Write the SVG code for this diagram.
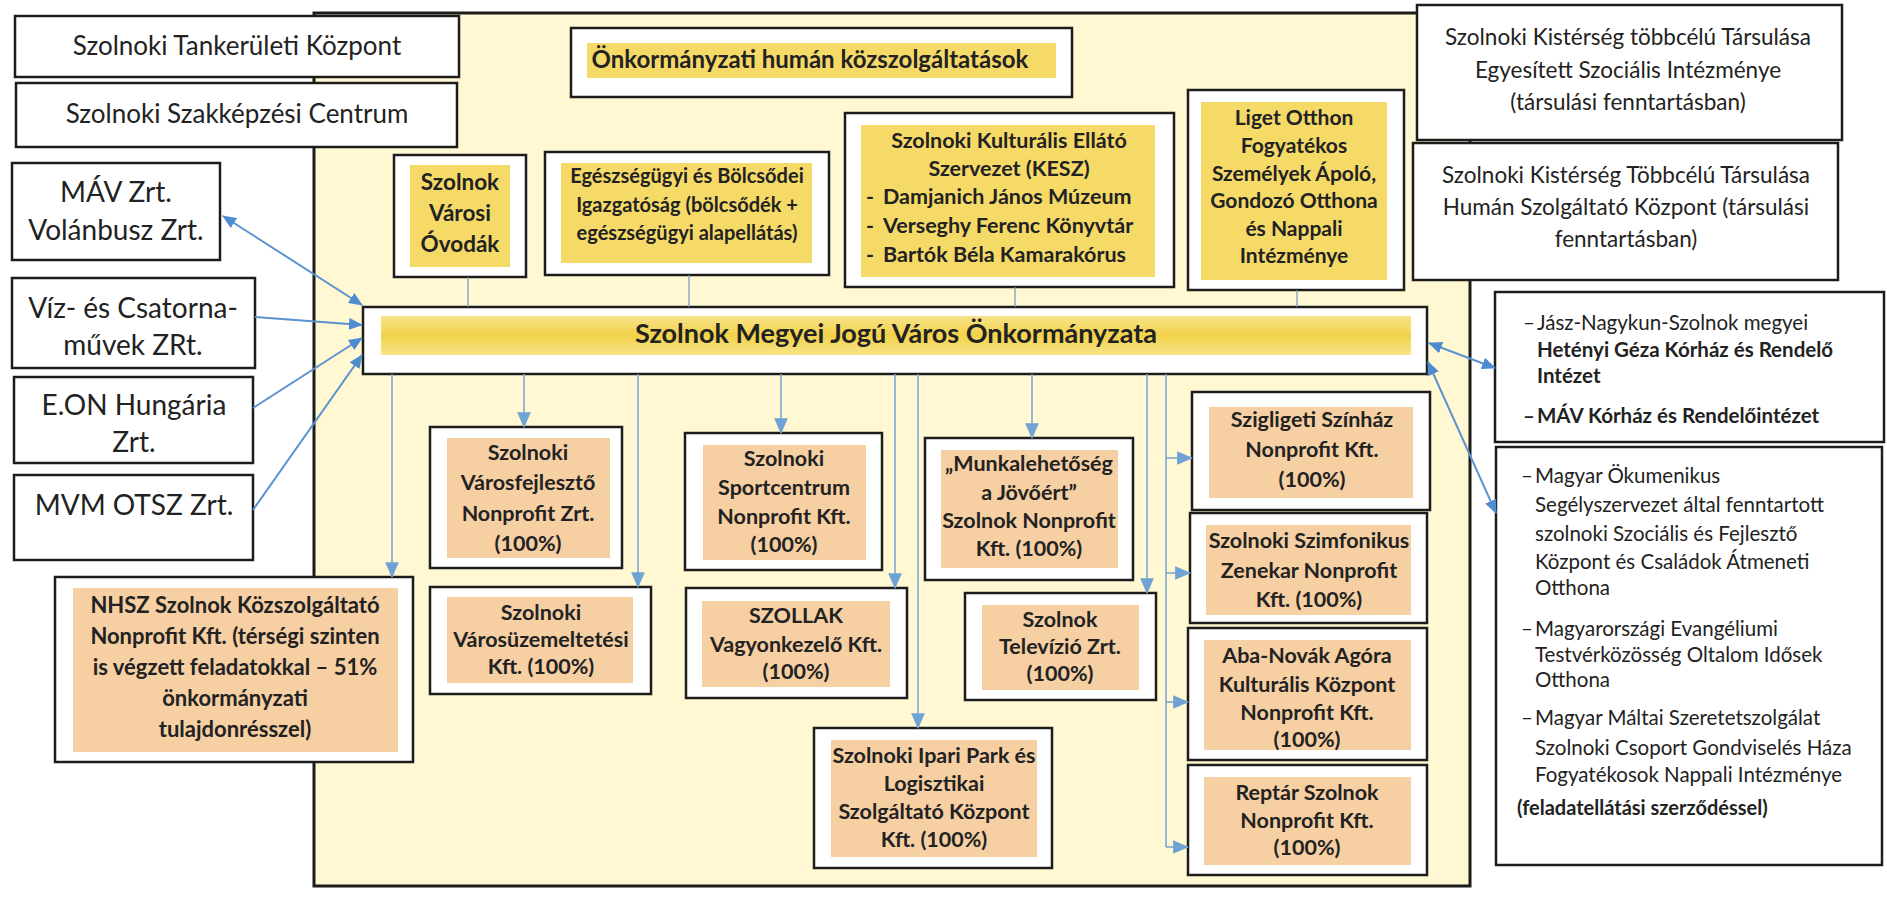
<svg xmlns="http://www.w3.org/2000/svg" width="1887" height="899" viewBox="0 0 1887 899">
<style>
.box{fill:#fff;stroke:#1c1c1c;stroke-width:2.5}
.cont{fill:#FFF8D3;stroke:#1c1c1c;stroke-width:3}
.yel{fill:#F6DA68}
.peach{fill:#F6CFA2}
.t{font-family:Lato,"Liberation Sans",sans-serif;fill:#222}
.b{font-weight:700}
.c{text-anchor:middle}
.pk{font-size:21.5px}
.conn{stroke:#5B93D0;stroke-width:2;fill:none}
.down{stroke:#72A4D6;stroke-width:1.5;fill:none}
.up{stroke:#6F96C6;stroke-width:1.2;fill:none}
</style>
<defs>
<marker id="ah" viewBox="0 0 14 12" refX="13" refY="6" markerWidth="14" markerHeight="12" markerUnits="userSpaceOnUse" orient="auto-start-reverse">
<path d="M0,0 L14,6 L0,12 Z" fill="#4F8CCF"/>
</marker>
<marker id="ad" viewBox="0 0 14 12" refX="13" refY="6" markerWidth="16" markerHeight="14" markerUnits="userSpaceOnUse" orient="auto">
<path d="M0,0 L14,6 L0,12 Z" fill="#6FA3D6"/>
</marker>
<linearGradient id="band" x1="0" y1="0" x2="0" y2="1">
<stop offset="0" stop-color="#F8E48A"/>
<stop offset="0.5" stop-color="#F2D24A"/>
<stop offset="1" stop-color="#F8E48A"/>
</linearGradient>
</defs>

<rect width="1887" height="899" fill="#fff"/>

<g id="container">
<rect class="cont" x="314" y="13" width="1156" height="873"/>
</g>

<g id="tankeruleti">
<rect class="box" x="15" y="16" width="444" height="61"/>
<text class="t c" x="237" y="55" font-size="26">Szolnoki Tankerületi Központ</text>
</g>
<g id="szakkepzesi">
<rect class="box" x="16" y="83" width="441" height="64"/>
<text class="t c" x="237" y="123" font-size="26">Szolnoki Szakképzési Centrum</text>
</g>
<g id="mav">
<rect class="box" x="12" y="163" width="208" height="97"/>
<text class="t c" font-size="28"><tspan x="116" y="202">MÁV Zrt.</tspan><tspan x="116" y="240">Volánbusz Zrt.</tspan></text>
</g>
<g id="viz">
<rect class="box" x="12" y="278" width="243" height="90"/>
<text class="t c" font-size="28"><tspan x="133" y="318">Víz- és Csatorna-</tspan><tspan x="133" y="355">művek ZRt.</tspan></text>
</g>
<g id="eon">
<rect class="box" x="14" y="377" width="239" height="86"/>
<text class="t c" font-size="28"><tspan x="134" y="415">E.ON Hungária</tspan><tspan x="134" y="452">Zrt.</tspan></text>
</g>
<g id="mvm">
<rect class="box" x="14" y="475" width="239" height="85"/>
<text class="t c" x="134" y="515" font-size="28">MVM OTSZ Zrt.</text>
</g>
<g id="nhsz">
<rect class="box" x="55" y="577" width="358" height="185"/>
<rect class="peach" x="73" y="588" width="325" height="164"/>
<text class="t b c" font-size="22"><tspan x="235" y="613">NHSZ Szolnok Közszolgáltató</tspan><tspan x="235" y="644">Nonprofit Kft. (térségi szinten</tspan><tspan x="235" y="675">is végzett feladatokkal – 51%</tspan><tspan x="235" y="706">önkormányzati</tspan><tspan x="235" y="737">tulajdonrésszel)</tspan></text>
</g>

<g id="humanservices">
<rect class="box" x="571" y="28" width="501" height="69"/>
<rect class="yel" x="587" y="43" width="469" height="35"/>
<text class="t b c" x="810" y="68" font-size="24">Önkormányzati humán közszolgáltatások</text>
</g>
<g id="ovodak">
<rect class="box" x="394" y="155" width="132" height="122"/>
<rect class="yel" x="410" y="165" width="100" height="102"/>
<text class="t b c" font-size="22.5"><tspan x="460" y="190">Szolnok</tspan><tspan x="460" y="221">Városi</tspan><tspan x="460" y="252">Óvodák</tspan></text>
</g>
<g id="egeszsegugyi">
<rect class="box" x="545" y="152" width="284" height="123"/>
<rect class="yel" x="561" y="163" width="251" height="100"/>
<text class="t b c" font-size="20"><tspan x="687" y="183">Egészségügyi és Bölcsődei</tspan><tspan x="687" y="212">Igazgatóság (bölcsődék +</tspan><tspan x="687" y="240">egészségügyi alapellátás)</tspan></text>
</g>
<g id="kesz">
<rect class="box" x="845" y="113" width="329" height="174"/>
<rect class="yel" x="861" y="125" width="294" height="152"/>
<text class="t b c" font-size="21.5"><tspan x="1009" y="148">Szolnoki Kulturális Ellátó</tspan><tspan x="1009" y="176">Szervezet (KESZ)</tspan></text>
<text class="t b" font-size="21.5"><tspan x="866" y="204">-</tspan><tspan x="883" y="204">Damjanich János Múzeum</tspan><tspan x="866" y="233">-</tspan><tspan x="883" y="233">Verseghy Ferenc Könyvtár</tspan><tspan x="866" y="262">-</tspan><tspan x="883" y="262">Bartók Béla Kamarakórus</tspan></text>
</g>
<g id="liget">
<rect class="box" x="1188" y="90" width="216" height="200"/>
<rect class="yel" x="1201" y="102" width="186" height="178"/>
<text class="t b c" font-size="21"><tspan x="1294" y="125">Liget Otthon</tspan><tspan x="1294" y="153">Fogyatékos</tspan><tspan x="1294" y="181">Személyek Ápoló,</tspan><tspan x="1294" y="208">Gondozó Otthona</tspan><tspan x="1294" y="236">és Nappali</tspan><tspan x="1294" y="263">Intézménye</tspan></text>
</g>

<g id="onkormanyzat">
<rect class="box" x="363" y="307" width="1064" height="67"/>
<rect x="381" y="316" width="1030" height="39" fill="url(#band)"/>
<text class="t b c" x="896" y="343" font-size="27">Szolnok Megyei Jogú Város Önkormányzata</text>
</g>

<g id="varosfejleszto">
<rect class="box" x="430" y="427" width="192" height="141"/>
<rect class="peach" x="447" y="438" width="163" height="120"/>
<text class="t b c pk"><tspan x="528" y="460">Szolnoki</tspan><tspan x="528" y="490">Városfejlesztő</tspan><tspan x="528" y="521">Nonprofit Zrt.</tspan><tspan x="528" y="551">(100%)</tspan></text>
</g>
<g id="varosuzemeltetesi">
<rect class="box" x="430" y="587" width="221" height="107"/>
<rect class="peach" x="447" y="597" width="186" height="86"/>
<text class="t b c pk"><tspan x="541" y="620">Szolnoki</tspan><tspan x="541" y="647">Városüzemeltetési</tspan><tspan x="541" y="674">Kft. (100%)</tspan></text>
</g>
<g id="sportcentrum">
<rect class="box" x="685" y="433" width="197" height="137"/>
<rect class="peach" x="703" y="445" width="163" height="115"/>
<text class="t b c pk"><tspan x="784" y="466">Szolnoki</tspan><tspan x="784" y="495">Sportcentrum</tspan><tspan x="784" y="524">Nonprofit Kft.</tspan><tspan x="784" y="552">(100%)</tspan></text>
</g>
<g id="szollak">
<rect class="box" x="686" y="588" width="221" height="110"/>
<rect class="peach" x="702" y="601" width="188" height="86"/>
<text class="t b c pk"><tspan x="796" y="623">SZOLLAK</tspan><tspan x="796" y="652">Vagyonkezelő Kft.</tspan><tspan x="796" y="679">(100%)</tspan></text>
</g>
<g id="iparipark">
<rect class="box" x="814" y="728" width="238" height="140"/>
<rect class="peach" x="831" y="740" width="206" height="117"/>
<text class="t b c pk"><tspan x="934" y="763">Szolnoki Ipari Park és</tspan><tspan x="934" y="791">Logisztikai</tspan><tspan x="934" y="819">Szolgáltató Központ</tspan><tspan x="934" y="847">Kft. (100%)</tspan></text>
</g>
<g id="munkalehetoseg">
<rect class="box" x="925" y="438" width="208" height="142"/>
<rect class="peach" x="941" y="450" width="177" height="118"/>
<text class="t b c pk"><tspan x="1029" y="471">„Munkalehetőség</tspan><tspan x="1029" y="500">a Jövőért”</tspan><tspan x="1029" y="528">Szolnok Nonprofit</tspan><tspan x="1029" y="556">Kft. (100%)</tspan></text>
</g>
<g id="televizio">
<rect class="box" x="965" y="593" width="191" height="107"/>
<rect class="peach" x="982" y="605" width="157" height="85"/>
<text class="t b c pk"><tspan x="1060" y="627">Szolnok</tspan><tspan x="1060" y="654">Televízió Zrt.</tspan><tspan x="1060" y="681">(100%)</tspan></text>
</g>
<g id="szigligeti">
<rect class="box" x="1192" y="392" width="238" height="118"/>
<rect class="peach" x="1209" y="407" width="204" height="91"/>
<text class="t b c pk"><tspan x="1312" y="427">Szigligeti Színház</tspan><tspan x="1312" y="457">Nonprofit Kft.</tspan><tspan x="1312" y="487">(100%)</tspan></text>
</g>
<g id="szimfonikus">
<rect class="box" x="1190" y="513" width="237" height="110"/>
<rect class="peach" x="1206" y="525" width="205" height="90"/>
<text class="t b c pk"><tspan x="1309" y="548">Szolnoki Szimfonikus</tspan><tspan x="1309" y="578">Zenekar Nonprofit</tspan><tspan x="1309" y="607">Kft. (100%)</tspan></text>
</g>
<g id="agora">
<rect class="box" x="1188" y="628" width="239" height="132"/>
<rect class="peach" x="1204" y="640" width="207" height="110"/>
<text class="t b c pk"><tspan x="1307" y="663">Aba-Novák Agóra</tspan><tspan x="1307" y="692">Kulturális Központ</tspan><tspan x="1307" y="720">Nonprofit Kft.</tspan><tspan x="1307" y="747">(100%)</tspan></text>
</g>
<g id="reptar">
<rect class="box" x="1188" y="765" width="239" height="110"/>
<rect class="peach" x="1204" y="777" width="207" height="88"/>
<text class="t b c pk"><tspan x="1307" y="800">Reptár Szolnok</tspan><tspan x="1307" y="828">Nonprofit Kft.</tspan><tspan x="1307" y="855">(100%)</tspan></text>
</g>

<g id="kisterseg-szocialis">
<rect class="box" x="1417" y="5" width="425" height="135"/>
<text class="t c" font-size="22.5"><tspan x="1628" y="45">Szolnoki Kistérség többcélú Társulása</tspan><tspan x="1628" y="78">Egyesített Szociális Intézménye</tspan><tspan x="1628" y="110">(társulási fenntartásban)</tspan></text>
</g>
<g id="kisterseg-human">
<rect class="box" x="1413" y="143" width="425" height="137"/>
<text class="t c" font-size="22.5"><tspan x="1626" y="183">Szolnoki Kistérség Többcélú Társulása</tspan><tspan x="1626" y="215">Humán Szolgáltató Központ (társulási</tspan><tspan x="1626" y="247">fenntartásban)</tspan></text>
</g>
<g id="korhazak">
<rect class="box" x="1495" y="292" width="389" height="150"/>
<text class="t" font-size="20.5"><tspan x="1523" y="330">–</tspan><tspan x="1537" y="330">Jász-Nagykun-Szolnok megyei</tspan></text>
<text class="t b" font-size="20.5"><tspan x="1537" y="357">Hetényi Géza Kórház és Rendelő</tspan><tspan x="1537" y="383">Intézet</tspan><tspan x="1523" y="423">–</tspan><tspan x="1537" y="423">MÁV Kórház és Rendelőintézet</tspan></text>
</g>
<g id="civil">
<rect class="box" x="1496" y="447" width="386" height="418"/>
<text class="t" font-size="20.5"><tspan x="1521" y="483">–</tspan><tspan x="1535" y="483">Magyar Ökumenikus</tspan><tspan x="1535" y="512">Segélyszervezet által fenntartott</tspan><tspan x="1535" y="541">szolnoki Szociális és Fejlesztő</tspan><tspan x="1535" y="569">Központ és Családok Átmeneti</tspan><tspan x="1535" y="595">Otthona</tspan><tspan x="1521" y="636">–</tspan><tspan x="1535" y="636">Magyarországi Evangéliumi</tspan><tspan x="1535" y="662">Testvérközösség Oltalom Idősek</tspan><tspan x="1535" y="687">Otthona</tspan><tspan x="1521" y="725">–</tspan><tspan x="1535" y="725">Magyar Máltai Szeretetszolgálat</tspan><tspan x="1535" y="755">Szolnoki Csoport Gondviselés Háza</tspan><tspan x="1535" y="782">Fogyatékosok Nappali Intézménye</tspan></text>
<text class="t b" x="1517" y="815" font-size="20">(feladatellátási szerződéssel)</text>
</g>

<g id="connectors">
<line class="up" x1="468" y1="277" x2="468" y2="307"/>
<line class="up" x1="689" y1="275" x2="689" y2="307"/>
<line class="up" x1="1015" y1="287" x2="1015" y2="307"/>
<line class="up" x1="1297" y1="290" x2="1297" y2="307"/>

<line class="down" x1="392" y1="374" x2="392" y2="577" marker-end="url(#ad)"/>
<line class="down" x1="524" y1="374" x2="524" y2="427" marker-end="url(#ad)"/>
<line class="down" x1="638" y1="374" x2="638" y2="587" marker-end="url(#ad)"/>
<line class="down" x1="781" y1="374" x2="781" y2="433" marker-end="url(#ad)"/>
<line class="down" x1="895" y1="374" x2="895" y2="588" marker-end="url(#ad)"/>
<line class="down" x1="918" y1="374" x2="918" y2="728" marker-end="url(#ad)"/>
<line class="down" x1="1032" y1="374" x2="1032" y2="438" marker-end="url(#ad)"/>
<line class="down" x1="1147" y1="374" x2="1147" y2="593" marker-end="url(#ad)"/>
<polyline class="down" points="1166,374 1166,847"/>
<line class="down" x1="1166" y1="458" x2="1192" y2="458" marker-end="url(#ad)"/>
<line class="down" x1="1166" y1="573" x2="1190" y2="573" marker-end="url(#ad)"/>
<line class="down" x1="1166" y1="702" x2="1188" y2="702" marker-end="url(#ad)"/>
<line class="down" x1="1166" y1="847" x2="1188" y2="847" marker-end="url(#ad)"/>

<line class="conn" x1="223" y1="216" x2="362" y2="305" marker-start="url(#ah)" marker-end="url(#ah)"/>
<line class="conn" x1="255" y1="317" x2="362" y2="325" marker-end="url(#ah)"/>
<line class="conn" x1="253" y1="408" x2="362" y2="338" marker-end="url(#ah)"/>
<line class="conn" x1="253" y1="510" x2="362" y2="355" marker-end="url(#ah)"/>
<line class="conn" x1="1429" y1="343" x2="1495" y2="368" marker-start="url(#ah)" marker-end="url(#ah)"/>
<line class="conn" x1="1428" y1="362" x2="1496" y2="513" marker-start="url(#ah)" marker-end="url(#ah)"/>
</g>
</svg>
